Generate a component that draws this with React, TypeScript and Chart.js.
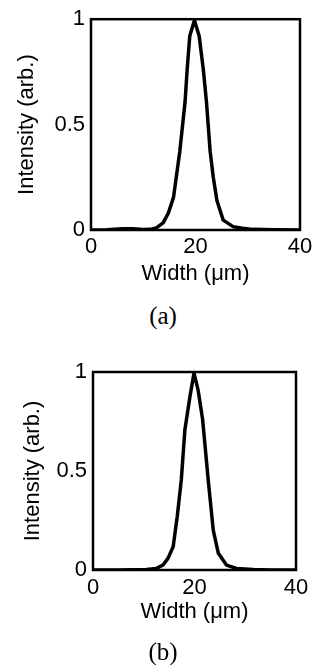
import React, { useEffect, useRef } from "react";
import { Chart, registerables } from "chart.js";

Chart.register(...registerables);

// Panel (a) profile
const widthA = [0, 3, 6, 8, 10, 11.3, 12.5, 13.8, 14.8, 15.8, 17.0, 18.0, 18.4, 18.9, 19.8, 20.7, 21.5, 22.1, 22.8, 23.4, 24.1, 25.3, 27.2, 29, 31, 35, 40];
const intensityA = [0, 0.001, 0.006, 0.006, 0.002, 0.003, 0.01, 0.034, 0.08, 0.156, 0.374, 0.607, 0.76, 0.92, 0.995, 0.92, 0.76, 0.607, 0.374, 0.25, 0.14, 0.047, 0.016, 0.008, 0.003, 0.001, 0];

// Panel (b) profile
const widthB = [0, 5, 10.5, 12.5, 13.8, 14.8, 15.8, 16.6, 17.4, 18.1, 19.1, 19.9, 20.7, 21.6, 22.7, 23.7, 24.7, 26.3, 28.3, 31.6, 35, 40];
const intensityB = [0, 0, 0.003, 0.008, 0.025, 0.06, 0.118, 0.27, 0.455, 0.707, 0.875, 0.995, 0.91, 0.76, 0.455, 0.2, 0.084, 0.025, 0.008, 0.003, 0, 0];

const xTicks = [0, 20, 40];
const yTicks = [0, 0.5, 1];
const xTitle = "Width (μm)";
const yTitle = "Intensity (arb.)";
const captions = ["(a)", "(b)"];

const FONT = "'Liberation Sans', Arial, Helvetica, sans-serif";

const framePlugin = {
  id: "frame",
  afterDraw(chart: any) {
    const { ctx, chartArea } = chart;
    ctx.save();
    ctx.strokeStyle = "#000";
    ctx.lineWidth = 2.5;
    ctx.strokeRect(chartArea.left, chartArea.top, chartArea.right - chartArea.left, chartArea.bottom - chartArea.top);
    ctx.restore();
  },
};

type PanelProps = {
  xs: number[];
  ys: number[];
  top: number;
  padTop: number;
  padRight: number;
  yWidth: number;
  yTitlePad: number;
  xHeight: number;
  xTickPad: number;
  xTitlePad: number;
};

function Panel(p: PanelProps) {
  const ref = useRef<HTMLCanvasElement>(null);
  useEffect(() => {
    const chart = new Chart(ref.current!, {
      type: "scatter",
      data: {
        datasets: [
          {
            data: p.xs.map((x, i) => ({ x, y: p.ys[i] })),
            showLine: true,
            borderColor: "#000",
            borderWidth: 3.5,
            pointRadius: 0,
            tension: 0,
            borderJoinStyle: "round",
            borderCapStyle: "round",
          } as any,
        ],
      },
      options: {
        animation: false,
        responsive: false,
        maintainAspectRatio: false,
        layout: { padding: { top: p.padTop, right: p.padRight, left: 0, bottom: 0 } },
        plugins: { legend: { display: false }, tooltip: { enabled: false } },
        scales: {
          x: {
            type: "linear",
            min: 0,
            max: 40,
            afterBuildTicks: (s: any) => {
              s.ticks = xTicks.map((v) => ({ value: v }));
            },
            afterFit: (s: any) => {
              s.height = p.xHeight;
            },
            grid: { display: false, drawTicks: false },
            border: { display: false },
            ticks: {
              color: "#000",
              padding: p.xTickPad,
              font: { family: FONT, size: 22 },
              maxRotation: 0,
              callback: (v: any) => String(v),
            },
            title: {
              display: true,
              text: xTitle,
              color: "#000",
              font: { family: FONT, size: 22 },
              padding: { top: 0, bottom: p.xTitlePad },
            },
          },
          y: {
            type: "linear",
            min: 0,
            max: 1,
            afterBuildTicks: (s: any) => {
              s.ticks = yTicks.map((v) => ({ value: v }));
            },
            afterFit: (s: any) => {
              s.width = p.yWidth;
            },
            grid: { display: false, drawTicks: false },
            border: { display: false },
            ticks: {
              color: "#000",
              padding: 6,
              font: { family: FONT, size: 22 },
              callback: (v: any) => String(v),
            },
            title: {
              display: true,
              text: yTitle,
              color: "#000",
              font: { family: FONT, size: 22 },
              padding: { top: p.yTitlePad, bottom: 0 },
            },
          },
        },
      },
      plugins: [framePlugin],
    } as any);
    return () => chart.destroy();
  }, []);
  return (
    <canvas
      ref={ref}
      width={320}
      height={300}
      style={{ position: "absolute", left: 0, top: p.top, width: 320, height: 300 }}
    />
  );
}

function Caption({ text, cy }: { text: string; cy: number }) {
  return (
    <div
      style={{
        position: "absolute",
        left: 113,
        width: 100,
        top: cy - 15,
        height: 30,
        lineHeight: "30px",
        textAlign: "center",
        fontFamily: "'Liberation Serif', 'Times New Roman', serif",
        fontSize: 25,
        color: "#000",
      }}
    >
      {text}
    </div>
  );
}

export default function App() {
  return (
    <div style={{ position: "absolute", left: 0, top: 0, width: 320, height: 665, background: "#fff", overflow: "hidden" }}>
      <Panel xs={widthA} ys={intensityA} top={0} padTop={16} padRight={20} yWidth={91} yTitlePad={14} xHeight={70} xTickPad={4} xTitlePad={13} />
      <Caption text={captions[0]} cy={316} />
      <Panel xs={widthB} ys={intensityB} top={340} padTop={32} padRight={24} yWidth={93} yTitlePad={20} xHeight={70} xTickPad={5} xTitlePad={15} />
      <Caption text={captions[1]} cy={652} />
    </div>
  );
}
